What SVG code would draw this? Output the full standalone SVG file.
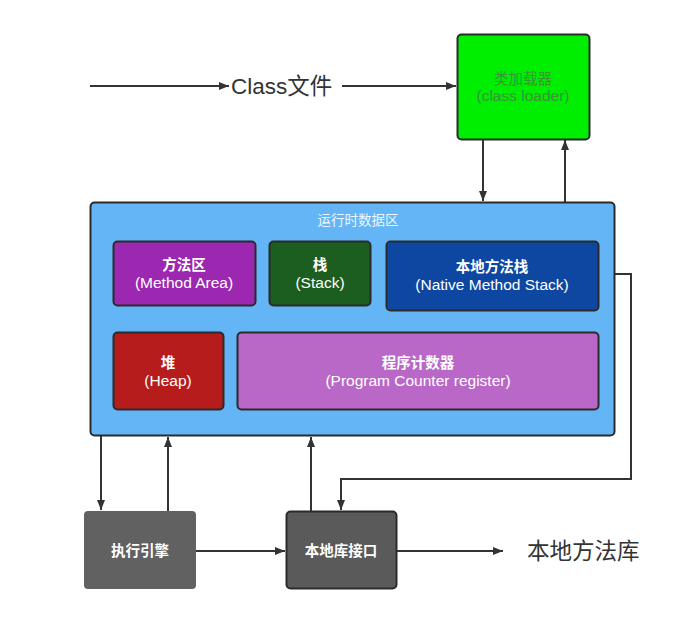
<svg xmlns="http://www.w3.org/2000/svg" width="684" height="628" viewBox="0 0 684 628">
<defs>
<marker id="ah" viewBox="0 0 10 10" refX="10" refY="5" markerWidth="10" markerHeight="10" markerUnits="userSpaceOnUse" orient="auto">
<path d="M0,1 L10,5 L0,9 Z" fill="#333"/>
</marker>
</defs>
<style>
.t{font-family:"Liberation Sans","Noto Sans CJK SC",sans-serif;text-anchor:middle;}
.w{fill:#fff;font-size:15.5px;}
.wb{fill:#fff;font-size:14.5px;font-weight:bold;}
.big{font-family:"Liberation Sans","Noto Sans CJK SC",sans-serif;font-size:22.5px;fill:#333;}
.box{stroke:#2b2b2b;stroke-width:2;}
.c{fill:none;stroke:#333;stroke-width:2;marker-end:url(#ah);}
</style>
<rect width="684" height="628" fill="#fff"/>
<g id="connectors">
<line class="c" x1="90" y1="86" x2="229" y2="86"/>
<line class="c" x1="342" y1="86" x2="456" y2="86"/>
<line class="c" x1="483" y1="140" x2="483" y2="201"/>
<line class="c" x1="565" y1="202" x2="565" y2="140"/>
<line class="c" x1="101" y1="436" x2="101" y2="510"/>
<line class="c" x1="168" y1="511" x2="168" y2="437"/>
<line class="c" x1="311" y1="511" x2="311" y2="437"/>
<polyline class="c" points="598,274 631,274 631,479 341,479 341,510"/>
<line class="c" x1="196" y1="551" x2="285" y2="551"/>
<line class="c" x1="396" y1="551" x2="503" y2="551"/>
</g>
<g id="class-file"><text class="big" x="231" y="94">Class文件</text></g>
<g id="class-loader">
<rect class="box" x="457.500" y="34.500" width="132" height="105" rx="4" fill="#00ee00"/>
<text class="t" x="523" y="84" font-size="14.5" fill="#3a943a">类加载器</text>
<text class="t" x="523" y="101" font-size="15.5" fill="#3a943a">(class loader)</text>
</g>
<g id="runtime-data-area">
<rect class="box" x="90.500" y="202.500" width="524" height="233" rx="4" fill="#64b5f6"/>
<text class="t" x="358" y="225" font-size="13.5" fill="#eef6ff">运行时数据区</text>
</g>
<g id="method-area">
<rect class="box" x="113.500" y="241.500" width="142" height="64" rx="4" fill="#9c27b0"/>
<text class="t wb" x="184" y="270">方法区</text>
<text class="t w" x="184" y="288">(Method Area)</text>
</g>
<g id="stack">
<rect class="box" x="269.500" y="241.500" width="101" height="64" rx="4" fill="#1b5e20"/>
<text class="t wb" x="320" y="270">栈</text>
<text class="t w" x="320" y="288">(Stack)</text>
</g>
<g id="native-method-stack">
<rect class="box" x="386.500" y="241.500" width="212" height="69" rx="4" fill="#0d47a1"/>
<text class="t wb" x="492" y="272">本地方法栈</text>
<text class="t w" x="492" y="290">(Native Method Stack)</text>
</g>
<g id="heap">
<rect class="box" x="113.500" y="332.500" width="110" height="77" rx="4" fill="#b71c1c"/>
<text class="t wb" x="168" y="368">堆</text>
<text class="t w" x="168" y="386">(Heap)</text>
</g>
<g id="program-counter">
<rect class="box" x="237.500" y="332.500" width="361" height="77" rx="4" fill="#ba68c8"/>
<text class="t wb" x="418" y="368">程序计数器</text>
<text class="t w" x="418" y="386">(Program Counter register)</text>
</g>
<g id="execution-engine">
<rect x="84" y="511" width="112" height="78" rx="4" fill="#616161"/>
<text class="t wb" x="140" y="556" font-size="14">执行引擎</text>
</g>
<g id="native-interface">
<rect class="box" x="286.500" y="511.500" width="110" height="77" rx="4" fill="#5a5a5a"/>
<text class="t wb" x="341" y="556" font-size="14">本地库接口</text>
</g>
<g id="native-library"><text class="big" x="527" y="559">本地方法库</text></g>
</svg>
